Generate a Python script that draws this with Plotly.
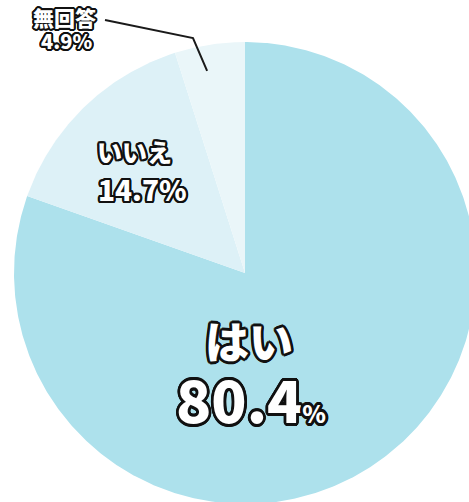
import math
import plotly.graph_objects as go

labels = ["はい", "いいえ", "無回答"]
values = [80.4, 14.7, 4.9]
colors = ["#ADE1EC", "#DDF1F7", "#EAF6F9"]

W, H = 469, 502
cx, cy, r = 245, 273, 231

def pt(theta_deg, rad):
    t = math.radians(theta_deg)
    return cx + rad * math.sin(t), cy - rad * math.cos(t)

fig = go.Figure()
total = sum(values)
start = 0.0
mids = []
for lab, v, col in zip(labels, values, colors):
    span = v / total * 360.0
    n = max(4, int(span * 2))
    xs, ys = [cx], [cy]
    for i in range(n + 1):
        x, y = pt(start + span * i / n, r)
        xs.append(x); ys.append(y)
    xs.append(cx); ys.append(cy)
    fig.add_trace(go.Scatter(x=xs, y=ys, mode="lines", fill="toself",
                             fillcolor=col, line=dict(width=0, color=col),
                             hoverinfo="skip", showlegend=False, name=lab))
    mids.append(start + span / 2)
    start += span

# leader line for 無回答
lx0, ly0 = pt(mids[2] - 1.8, r * 0.89)
fig.add_trace(go.Scatter(x=[lx0, 193, 105], y=[ly0, 38, 20], mode="lines",
                         line=dict(color="#1a1a1a", width=2),
                         hoverinfo="skip", showlegend=False))

def outline(w):
    offs = []
    for k in range(16):
        a = 2 * math.pi * k / 16
        offs.append(f"{w*math.cos(a):.2f}px {w*math.sin(a):.2f}px 0 #111")
    return ", ".join(offs)

FAM = "Noto Sans CJK JP, Noto Sans, sans-serif"

def ann(text, x, y, size, w):
    fig.add_annotation(x=x, y=y, xref="x", yref="y", text=text, showarrow=False,
                       xanchor="center", yanchor="middle",
                       font=dict(family=FAM, size=size, color="white",
                                 weight=900, shadow=outline(w)))

ann(labels[0], 248.5, 340, 44, 2.6)
ann(f"{values[0]}<span style='font-size:24px'>%</span>", 251, 398, 58, 2.8)
ann(labels[1], 134, 151, 25, 2.2)
ann(f"{values[1]}%", 142.5, 188.5, 28, 2.2)
ann(labels[2], 64.5, 17, 21, 2)
ann(f"{values[2]}%", 66, 40, 20, 2)

fig.update_layout(width=W, height=H, margin=dict(l=0, r=0, t=0, b=0),
                  paper_bgcolor="white", plot_bgcolor="white",
                  hovermode=False,
                  xaxis=dict(range=[0, W], visible=False, fixedrange=True),
                  yaxis=dict(range=[H, 0], visible=False, fixedrange=True))
fig.write_html("out.html", config={"displayModeBar": False, "staticPlot": True},
               post_script="document.body.style.margin='0';document.body.style.overflow='hidden';")
